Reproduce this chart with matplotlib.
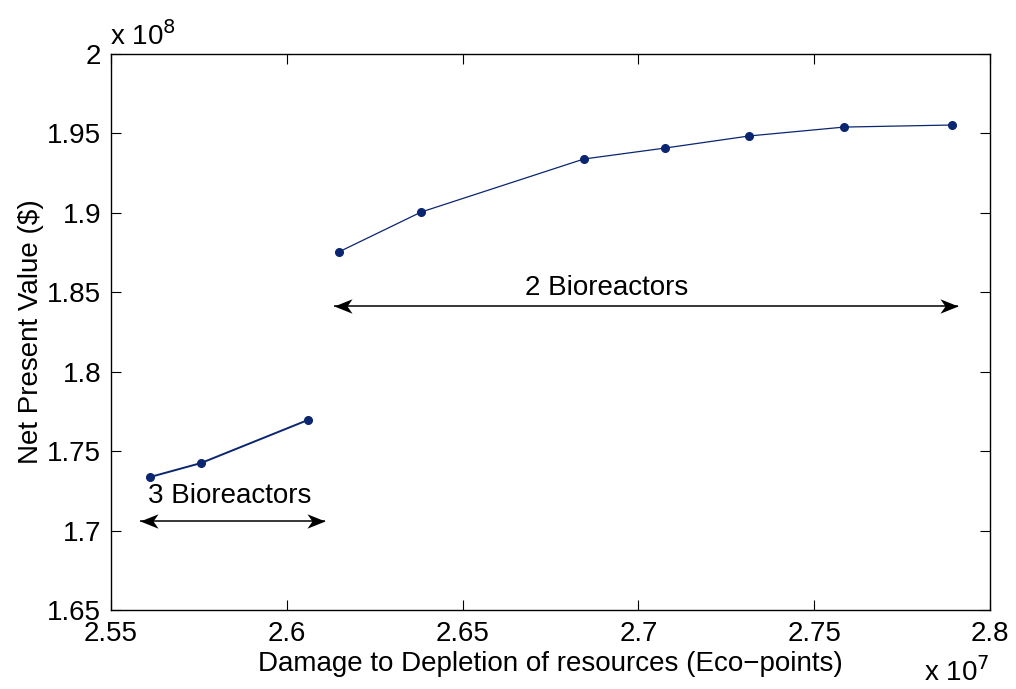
import matplotlib
matplotlib.use("Agg")
import matplotlib.pyplot as plt
from matplotlib.path import Path

x3 = [2.5611, 2.5756, 2.6060]
y3 = [1.7337, 1.7425, 1.7696]
x2 = [2.6148, 2.6382, 2.6845, 2.7076, 2.7315, 2.7585, 2.7892]
y2 = [1.8754, 1.9005, 1.9339, 1.9408, 1.9484, 1.9540, 1.9553]
xticks = [2.55, 2.6, 2.65, 2.7, 2.75, 2.8]
yticks = [1.65, 1.7, 1.75, 1.8, 1.85, 1.9, 1.95, 2.0]
xtlabels = ["2.55", "2.6", "2.65", "2.7", "2.75", "2.8"]
ytlabels = ["1.65", "1.7", "1.75", "1.8", "1.85", "1.9", "1.95", "2"]
arrow3_x = [2.5582, 2.6109]
arrow3_y = 1.706
arrow2_x = [2.6134, 2.7909]
arrow2_y = 1.8414

plt.rcParams['font.family'] = ['Liberation Sans', 'DejaVu Sans']
fs = 20
color = '#0b2670'

fig = plt.figure(figsize=(10.16, 6.89), dpi=100)
ax = fig.add_axes([111/1016, 1 - 610/689, (990-111)/1016, (610-54)/689])

ax.plot(x3, y3, '-o', color=color, lw=1.4, ms=5.5)
ax.plot(x2, y2, '-o', color=color, lw=0.9, ms=5.5)

ax.set_xlim(2.55, 2.8)
ax.set_ylim(1.65, 2.0)
ax.set_xticks(xticks)
ax.set_xticklabels(xtlabels)
ax.set_yticks(yticks)
ax.set_yticklabels(ytlabels)
ax.tick_params(direction='in', length=7, width=0.8, labelsize=fs, top=True, right=True)
ax.tick_params(axis='x', pad=8)
ax.tick_params(axis='y', pad=7)
for s in ax.spines.values():
    s.set_linewidth(1.0)

ax.set_xlabel('Damage to Depletion of resources (Eco\u2212points)', fontsize=fs, labelpad=3)
ax.set_ylabel('Net Present Value ($)', fontsize=fs, labelpad=2)

left_head = Path([(0, 0), (1, 0.4), (0.72, 0), (1, -0.4), (0, 0)],
                 [Path.MOVETO, Path.LINETO, Path.LINETO, Path.LINETO, Path.CLOSEPOLY])
right_head = Path([(0, 0), (-1, 0.4), (-0.72, 0), (-1, -0.4), (0, 0)],
                  [Path.MOVETO, Path.LINETO, Path.LINETO, Path.LINETO, Path.CLOSEPOLY])


def double_arrow(xs, y):
    ax.plot(xs, [y, y], color='black', lw=1.1, solid_capstyle='butt')
    ax.plot([xs[0]], [y], marker=left_head, ms=26, color='black', mew=0)
    ax.plot([xs[1]], [y], marker=right_head, ms=26, color='black', mew=0)


double_arrow(arrow3_x, arrow3_y)
ax.text(2.5838, 1.7215, '3 Bioreactors', fontsize=fs, ha='center', va='center')
double_arrow(arrow2_x, arrow2_y)
ax.text(2.6911, 1.8527, '2 Bioreactors', fontsize=fs, ha='center', va='center')

fig.text(110/1016, 1 - 36/689, r'x 10$^{8}$', fontsize=fs, ha='left', va='center')
fig.text(924/1016, 1 - 672/689, r'x 10$^{7}$', fontsize=fs, ha='left', va='center')

fig.savefig('out.png', dpi=100)
